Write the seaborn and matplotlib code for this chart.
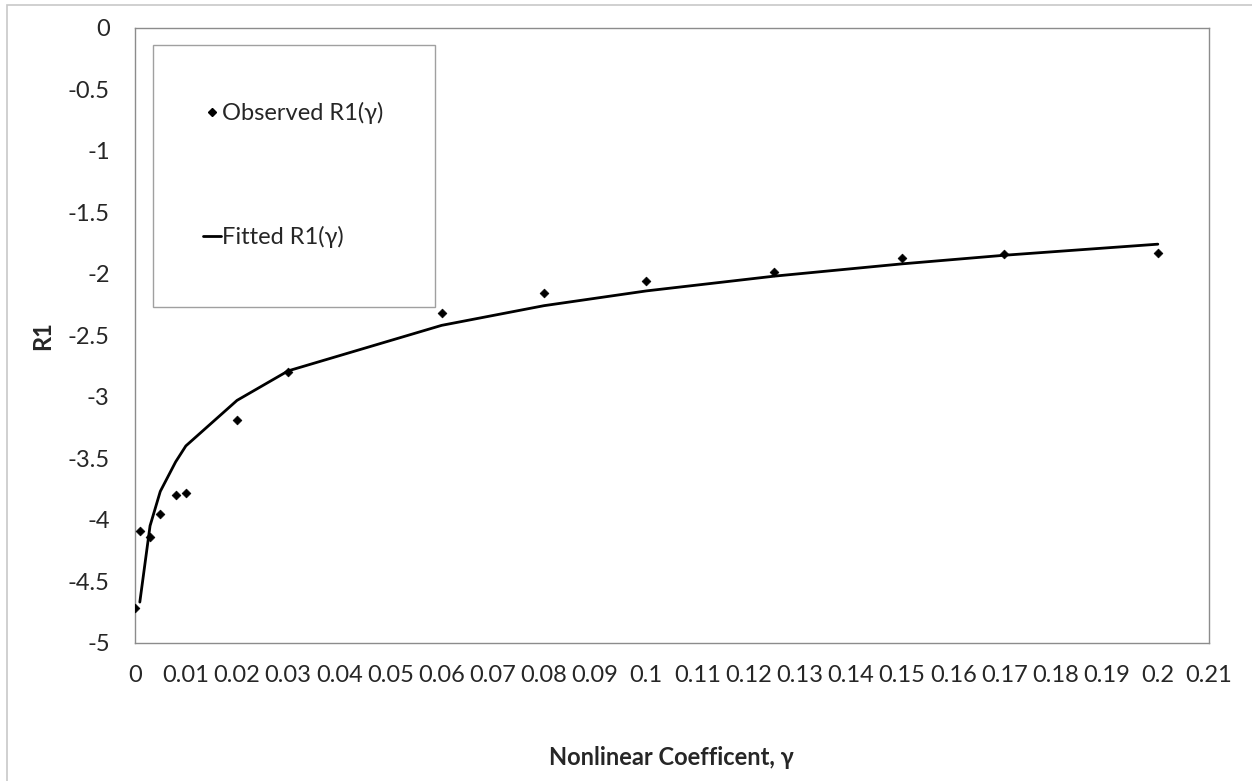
import matplotlib
matplotlib.use("Agg")
import matplotlib.pyplot as plt
import numpy as np
import pandas as pd
import seaborn as sns
from matplotlib.ticker import MultipleLocator, FuncFormatter
from matplotlib.patches import Rectangle
from matplotlib.lines import Line2D

# Observed R1 values for each nonlinear coefficient
gamma_obs = [0, 0.001, 0.003, 0.005, 0.008, 0.01, 0.02, 0.03, 0.06, 0.08, 0.1, 0.125, 0.15, 0.17, 0.2]
r1_obs = [-4.72, -4.09, -4.14, -3.95, -3.80, -3.78, -3.19, -2.80, -2.32, -2.16, -2.06, -1.99, -1.87, -1.84, -1.83]

# Fitted R1 curve
gamma_fit = [0.001, 0.003, 0.005, 0.008, 0.01, 0.02, 0.03, 0.06, 0.08, 0.1, 0.125, 0.15, 0.17, 0.2]
r1_fit = [-4.67, -4.05, -3.77, -3.53, -3.40, -3.03, -2.79, -2.42, -2.26, -2.14, -2.02, -1.92, -1.85, -1.76]

obs = pd.DataFrame({"gamma": gamma_obs, "R1": r1_obs})
fit = pd.DataFrame({"gamma": gamma_fit, "R1": r1_fit})

sns.set_theme(style="white")
plt.rcParams["font.family"] = ["Lato", "DejaVu Sans"]

W, H = 1252, 781
fig = plt.figure(figsize=(W / 100, H / 100), dpi=100)
fig.patch.set_facecolor("white")

# plot area in pixels
left, right, top, bottom = 134.7, 1209.0, 27.7, 642.7
ax = fig.add_axes([left / W, 1 - bottom / H, (right - left) / W, (bottom - top) / H])

sns.lineplot(data=fit, x="gamma", y="R1", ax=ax, color="black", linewidth=2.0,
             sort=False, estimator=None)
sns.scatterplot(data=obs, x="gamma", y="R1", ax=ax, color="black", marker="D",
                s=20, edgecolor="black", linewidth=0.5, zorder=3)

ax.set_xlim(0, 0.21)
ax.set_ylim(-5, 0)

ax.xaxis.set_major_locator(MultipleLocator(0.01))
ax.xaxis.set_minor_locator(MultipleLocator(0.002))
ax.yaxis.set_major_locator(MultipleLocator(0.5))
ax.yaxis.set_minor_locator(MultipleLocator(0.1))


def fmt(v, _pos):
    v = round(v, 3)
    if v == 0:
        return "0"
    return f"{v:g}"


ax.xaxis.set_major_formatter(FuncFormatter(fmt))
ax.yaxis.set_major_formatter(FuncFormatter(fmt))

spine_col = "#8c8c8c"
for s in ax.spines.values():
    s.set_color(spine_col)
    s.set_linewidth(1.0)

ax.tick_params(axis="x", which="major", direction="in", length=5, width=0.8,
               color=spine_col, labelsize=17, pad=16, top=False)
ax.tick_params(axis="x", which="minor", direction="in", length=3, width=0.8,
               color=spine_col, top=False)
ax.tick_params(axis="y", which="both", direction="in", length=4.3, width=0.8,
               color=spine_col, labelsize=17, pad=18, right=False)

ax.set_xlabel("Nonlinear Coefficent, γ", fontsize=17, fontweight="bold")
ax.set_ylabel("R1", fontsize=17, fontweight="bold")
ax.xaxis.label.set_va("center")
ax.yaxis.label.set_va("center")
ax.xaxis.set_label_coords(0.5, -0.186)
ax.yaxis.set_label_coords(-0.0854, 0.5)

# legend: entries without frame, box drawn separately
handles = [
    Line2D([], [], color="black", marker="D", markersize=4, linestyle="none"),
    Line2D([], [], color="black", linewidth=2.0),
]
leg = fig.legend(handles, ["Observed R1(γ)", "Fitted R1(γ)"],
                 loc="center left", bbox_to_anchor=(203 / W, 1 - 175 / H),
                 frameon=False, fontsize=17, handlelength=0.75, handletextpad=0.05,
                 labelspacing=4.3, borderpad=0, borderaxespad=0)

fig.add_artist(Rectangle((153.3 / W, 1 - 306.7 / H), (435 - 153.3) / W, (306.7 - 45.3) / H,
                         transform=fig.transFigure, fill=False, edgecolor="#a0a0a0",
                         linewidth=1.0))
# outer chart border
fig.add_artist(Rectangle((7 / W, 1 - 800 / H), (1270 - 7) / W, (800 - 5) / H,
                         transform=fig.transFigure, fill=False, edgecolor="#c8c8c8",
                         linewidth=1.2))

fig.savefig("out.png", dpi=100)
